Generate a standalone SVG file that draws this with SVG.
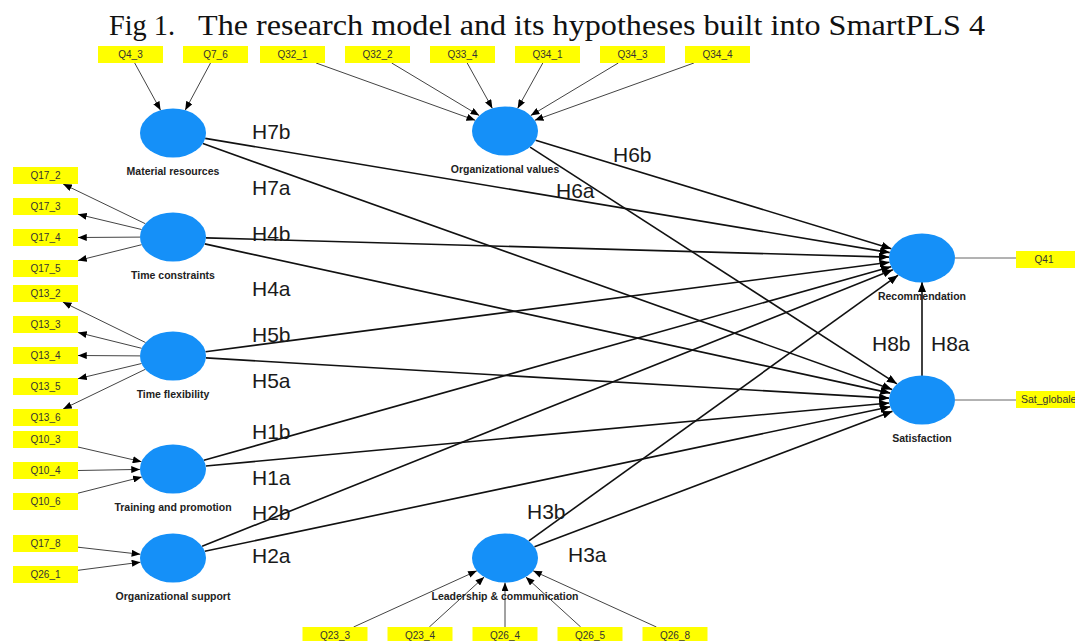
<svg xmlns="http://www.w3.org/2000/svg" width="1075" height="641" viewBox="0 0 1075 641">
<style>
.title{font-family:"Liberation Serif","DejaVu Serif",serif;font-size:29px;fill:#111}
.lv ellipse{fill:#1590f8}
.lv text{font-family:"Liberation Sans",Arial,sans-serif;font-size:10.5px;font-weight:bold;fill:#222;text-anchor:middle}
.ind rect{fill:#ffff00}
.ind text{font-family:"Liberation Sans",Arial,sans-serif;font-size:10px;fill:#333;text-anchor:middle}
.hl{font-family:"Liberation Sans",Arial,sans-serif;font-size:21px;fill:#1a1a1a}
.sp line{stroke:#111;stroke-width:1.6;marker-end:url(#ah)}
.mp line{stroke:#444;stroke-width:1;marker-end:url(#sh)}
.plain{stroke:#666;stroke-width:1}
</style>
<defs>
<marker id="ah" viewBox="0 0 10 8" refX="10" refY="4" markerWidth="10" markerHeight="8" orient="auto" markerUnits="userSpaceOnUse"><path d="M0,0L10,4L0,8z" fill="#000"/></marker>
<marker id="sh" viewBox="0 0 10 8" refX="10" refY="4" markerWidth="9" markerHeight="7" orient="auto" markerUnits="userSpaceOnUse"><path d="M0,0L10,4L0,8z" fill="#000"/></marker>
</defs>
<rect width="1075" height="641" fill="#fff"/>
<text class="title" x="109" y="35" textLength="66" lengthAdjust="spacingAndGlyphs">Fig 1.</text>
<text class="title" x="198" y="35" textLength="787" lengthAdjust="spacingAndGlyphs">The research model and its hypotheses built into SmartPLS 4</text>

<g id="connectors">
<g class="sp">
<line x1="205.2" y1="138.4" x2="889.8" y2="252.6"/>
<line x1="202.9" y1="143.6" x2="892.1" y2="389.4"/>
<line x1="535.6" y1="140.3" x2="891.4" y2="248.7"/>
<line x1="530.1" y1="147.2" x2="896.9" y2="383.8"/>
<line x1="206" y1="237.9" x2="889" y2="257.1"/>
<line x1="204.7" y1="243.9" x2="890.3" y2="393.1"/>
<line x1="205.5" y1="351.7" x2="889.5" y2="262.3"/>
<line x1="205.9" y1="357.9" x2="889.1" y2="398.1"/>
<line x1="203.9" y1="460.3" x2="891.1" y2="266.7"/>
<line x1="205.8" y1="466" x2="889.2" y2="403"/>
<line x1="202.1" y1="546.3" x2="892.9" y2="269.7"/>
<line x1="204.8" y1="551.3" x2="890.2" y2="406.7"/>
<line x1="528.9" y1="540.8" x2="898.1" y2="275.2"/>
<line x1="534.5" y1="546.8" x2="892.5" y2="411.2"/>
<line x1="922" y1="376" x2="922" y2="282"/>
</g>
<g class="mp">
<line x1="134.7" y1="63" x2="160.6" y2="110.3"/>
<line x1="210.5" y1="63" x2="185.2" y2="110.2"/>
<line x1="316.1" y1="63" x2="475.3" y2="120.3"/>
<line x1="391.7" y1="63" x2="479.3" y2="115.6"/>
<line x1="467.2" y1="63" x2="492.4" y2="108.4"/>
<line x1="542.8" y1="63" x2="517.6" y2="108.4"/>
<line x1="618.3" y1="63" x2="530.7" y2="115.6"/>
<line x1="693.9" y1="63" x2="534.7" y2="120.3"/>
<line x1="145.3" y1="223.7" x2="63.1" y2="184"/>
<line x1="141.6" y1="229.5" x2="78" y2="214.3"/>
<line x1="140" y1="237.1" x2="78" y2="237.5"/>
<line x1="141.7" y1="244.7" x2="78" y2="260.5"/>
<line x1="145.5" y1="342.5" x2="62.8" y2="302"/>
<line x1="141.7" y1="348.3" x2="78" y2="332.5"/>
<line x1="140" y1="355.9" x2="78" y2="355.5"/>
<line x1="141.6" y1="363.5" x2="78" y2="378.7"/>
<line x1="145.3" y1="369.3" x2="63.1" y2="409"/>
<line x1="78" y1="447" x2="141.5" y2="461.7"/>
<line x1="78" y1="470.5" x2="140" y2="469.4"/>
<line x1="78" y1="493.2" x2="141.8" y2="477"/>
<line x1="78" y1="547.2" x2="140.4" y2="554.3"/>
<line x1="78" y1="570.3" x2="140.5" y2="562.2"/>
<line x1="353.6" y1="627" x2="476.9" y2="570.8"/>
<line x1="429.3" y1="627" x2="484.2" y2="577"/>
<line x1="505" y1="627" x2="505" y2="582.5"/>
<line x1="580.7" y1="627" x2="525.8" y2="577"/>
<line x1="656.4" y1="627" x2="533.1" y2="570.8"/>
</g>
<line class="plain" x1="955" y1="258" x2="1016" y2="258"/>
<line class="plain" x1="955" y1="400" x2="1016" y2="400"/>
</g>

<g id="hyp-labels">
<text class="hl" x="252" y="139">H7b</text>
<text class="hl" x="252" y="195">H7a</text>
<text class="hl" x="252" y="241">H4b</text>
<text class="hl" x="252" y="296">H4a</text>
<text class="hl" x="252" y="342">H5b</text>
<text class="hl" x="252" y="388">H5a</text>
<text class="hl" x="252" y="439">H1b</text>
<text class="hl" x="252" y="485">H1a</text>
<text class="hl" x="252" y="520">H2b</text>
<text class="hl" x="252" y="563">H2a</text>
<text class="hl" x="613" y="162">H6b</text>
<text class="hl" x="556" y="198">H6a</text>
<text class="hl" x="527" y="519">H3b</text>
<text class="hl" x="568" y="562">H3a</text>
<text class="hl" x="872" y="351">H8b</text>
<text class="hl" x="931" y="351">H8a</text>
</g>

<g id="lv-material" class="lv"><ellipse cx="173" cy="133" rx="33" ry="24.5"/><text x="173" y="175">Material resources</text></g>
<g id="lv-orgvalues" class="lv"><ellipse cx="505" cy="131" rx="33" ry="24.5"/><text x="505" y="173">Organizational values</text></g>
<g id="lv-timecons" class="lv"><ellipse cx="173" cy="237" rx="33" ry="24.5"/><text x="173" y="279">Time constraints</text></g>
<g id="lv-timeflex" class="lv"><ellipse cx="173" cy="356" rx="33" ry="24.5"/><text x="173" y="398">Time flexibility</text></g>
<g id="lv-training" class="lv"><ellipse cx="173" cy="469" rx="33" ry="24.5"/><text x="173" y="511">Training and promotion</text></g>
<g id="lv-orgsupport" class="lv"><ellipse cx="173" cy="558" rx="33" ry="24.5"/><text x="173" y="600">Organizational support</text></g>
<g id="lv-leadership" class="lv"><ellipse cx="505" cy="558" rx="33" ry="24.5"/><text x="505" y="600">Leadership &amp; communication</text></g>
<g id="lv-recommendation" class="lv"><ellipse cx="922" cy="258" rx="33" ry="24.5"/><text x="922" y="300">Recommendation</text></g>
<g id="lv-satisfaction" class="lv"><ellipse cx="922" cy="400" rx="33" ry="24.5"/><text x="922" y="442">Satisfaction</text></g>

<g id="ind-Q4_3" class="ind"><rect x="98" y="46" width="65" height="17"/><text x="130.5" y="58">Q4_3</text></g>
<g id="ind-Q7_6" class="ind"><rect x="183" y="46" width="65" height="17"/><text x="215.5" y="58">Q7_6</text></g>
<g id="ind-Q32_1" class="ind"><rect x="260" y="46" width="65" height="17"/><text x="292.5" y="58">Q32_1</text></g>
<g id="ind-Q32_2" class="ind"><rect x="345" y="46" width="65" height="17"/><text x="377.5" y="58">Q32_2</text></g>
<g id="ind-Q33_4" class="ind"><rect x="430" y="46" width="65" height="17"/><text x="462.5" y="58">Q33_4</text></g>
<g id="ind-Q34_1" class="ind"><rect x="515" y="46" width="65" height="17"/><text x="547.5" y="58">Q34_1</text></g>
<g id="ind-Q34_3" class="ind"><rect x="600" y="46" width="65" height="17"/><text x="632.5" y="58">Q34_3</text></g>
<g id="ind-Q34_4" class="ind"><rect x="685" y="46" width="65" height="17"/><text x="717.5" y="58">Q34_4</text></g>

<g id="ind-Q17_2" class="ind"><rect x="13" y="167" width="65" height="17"/><text x="45.5" y="179">Q17_2</text></g>
<g id="ind-Q17_3" class="ind"><rect x="13" y="198" width="65" height="17"/><text x="45.5" y="210">Q17_3</text></g>
<g id="ind-Q17_4" class="ind"><rect x="13" y="229" width="65" height="17"/><text x="45.5" y="241">Q17_4</text></g>
<g id="ind-Q17_5" class="ind"><rect x="13" y="260" width="65" height="17"/><text x="45.5" y="272">Q17_5</text></g>
<g id="ind-Q13_2" class="ind"><rect x="13" y="285" width="65" height="17"/><text x="45.5" y="297">Q13_2</text></g>
<g id="ind-Q13_3" class="ind"><rect x="13" y="316" width="65" height="17"/><text x="45.5" y="328">Q13_3</text></g>
<g id="ind-Q13_4" class="ind"><rect x="13" y="347" width="65" height="17"/><text x="45.5" y="359">Q13_4</text></g>
<g id="ind-Q13_5" class="ind"><rect x="13" y="378" width="65" height="17"/><text x="45.5" y="390">Q13_5</text></g>
<g id="ind-Q13_6" class="ind"><rect x="13" y="409" width="65" height="17"/><text x="45.5" y="421">Q13_6</text></g>
<g id="ind-Q10_3" class="ind"><rect x="13" y="431" width="65" height="17"/><text x="45.5" y="443">Q10_3</text></g>
<g id="ind-Q10_4" class="ind"><rect x="13" y="462" width="65" height="17"/><text x="45.5" y="474">Q10_4</text></g>
<g id="ind-Q10_6" class="ind"><rect x="13" y="493" width="65" height="17"/><text x="45.5" y="505">Q10_6</text></g>
<g id="ind-Q17_8" class="ind"><rect x="13" y="535" width="65" height="17"/><text x="45.5" y="547">Q17_8</text></g>
<g id="ind-Q26_1" class="ind"><rect x="13" y="566" width="65" height="17"/><text x="45.5" y="578">Q26_1</text></g>

<g id="ind-Q23_3" class="ind"><rect x="302.5" y="627" width="65" height="17"/><text x="335" y="639">Q23_3</text></g>
<g id="ind-Q23_4" class="ind"><rect x="387.5" y="627" width="65" height="17"/><text x="420" y="639">Q23_4</text></g>
<g id="ind-Q26_4" class="ind"><rect x="472.5" y="627" width="65" height="17"/><text x="505" y="639">Q26_4</text></g>
<g id="ind-Q26_5" class="ind"><rect x="557.5" y="627" width="65" height="17"/><text x="590" y="639">Q26_5</text></g>
<g id="ind-Q26_8" class="ind"><rect x="642.5" y="627" width="65" height="17"/><text x="675" y="639">Q26_8</text></g>

<g id="ind-Q41" class="ind"><rect x="1016" y="251" width="65" height="17"/><text x="1044" y="263">Q41</text></g>
<g id="ind-Sat_globale" class="ind"><rect x="1016" y="391" width="80" height="17"/><text x="1021" y="403" style="text-anchor:start;font-size:10.5px">Sat_globale</text></g>
</svg>
